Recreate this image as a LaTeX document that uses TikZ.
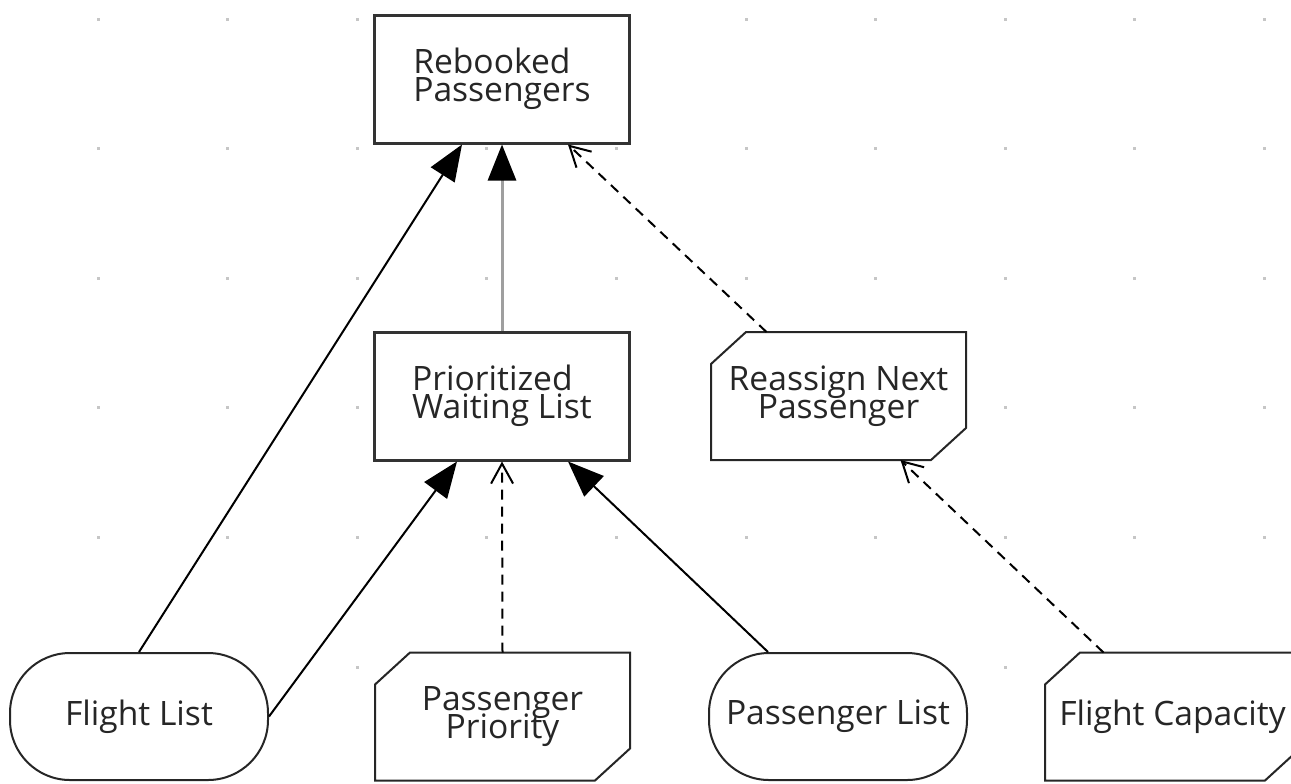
\documentclass[tikz,border=0pt]{standalone}
\usepackage{fontspec}
\setmainfont{Open Sans}
\usetikzlibrary{arrows.meta}
\newcommand{\boxfont}{\fontsize{16.8}{13.8}\selectfont\lineskiplimit=-20pt\relax}

\begin{document}
\begin{tikzpicture}[x=0.5pt,y=-0.5pt,
  every node/.style={font=\boxfont, text=black!85},
  goalbox/.style={draw=black!80, line width=1.5pt, fill=white,
    minimum width=127.5pt, minimum height=64pt, align=left},
  cutbox/.style={fill=white, outer sep=0pt, inner sep=2pt,
    minimum width=127.5pt, minimum height=64pt, align=center},
  cutline/.style={draw=black!85, line width=1pt, line join=miter},
  sourcebox/.style={draw=black!85, line width=1pt, fill=white,
    rounded corners=30pt, minimum width=129pt, minimum height=63.5pt},
  need/.style={-{Triangle[length=18pt,width=14pt,color=black]}, line width=1pt},
  hint/.style={-{Straight Barb[length=10pt,width=11pt]},
    dash pattern=on 5pt off 3.5pt, line width=1pt}]

  \useasboundingbox (0,0) rectangle (1291,783);

  % Grid dots
  \foreach \i in {0,...,9}
    \foreach \j in {0,...,5}
      \fill[gray!45] (98+129.6*\i-1.5, 19+129.6*\j-1.5) rectangle ++(3,3);

  % Goals
  \node[goalbox] (rb) at (502,79)  {Rebooked\\Passengers};
  \node[goalbox] (pw) at (502,396) {Prioritized\\Waiting List};

  % Rules
  \node[cutbox] (rn) at (838.5,396)    {Reassign Next\\Passenger};
  \node[cutbox] (pp) at (502.5,716.5)  {Passenger\\Priority};
  \node[cutbox] (fc) at (1172.5,716.5) {Flight Capacity};

  % Cut corners of the rules
  \foreach \n in {rn,pp,fc}
    \draw[cutline] ([yshift=-16pt]\n.north west) -- ([xshift=17.5pt]\n.north west)
      -- (\n.north east) -- ([yshift=16pt]\n.south east)
      -- ([xshift=-17.5pt]\n.south east) -- (\n.south west) -- cycle;

  % Inputs
  \node[sourcebox] (fl) at (139,716.5) {Flight List};
  \node[sourcebox] (pl) at (838,716.5) {Passenger List};

  % Dependencies
  \draw[need] (fl.north) -- ([xshift=-20pt]rb.south);
  \draw[need] (fl.east) -- ([xshift=-22.5pt]pw.south);
  \draw[need, draw=gray!75, line width=1.5pt] (pw.north) -- (rb.south);
  \draw[need] ([xshift=-35pt]pl.north) -- ([xshift=33pt]pw.south);

  % Influences
  \draw[hint] ([xshift=-36pt]rn.north) -- ([xshift=33pt]rb.south);
  \draw[hint] (pp.north) -- (pw.south);
  \draw[hint] ([xshift=-34.5pt]fc.north) -- ([xshift=31pt]rn.south);
\end{tikzpicture}
\end{document}
